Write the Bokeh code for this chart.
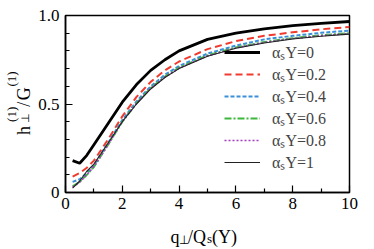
import math
from bokeh.plotting import figure
from bokeh.layouts import row, column
from bokeh.models import FixedTicker, Legend, LegendItem, Range1d, ColumnDataSource
from bokeh.core.properties import value
from bokeh.embed import file_html
from bokeh.resources import INLINE

# ---- data ----
q_ratio = [0.25, 0.5, 0.75, 1, 1.5, 2, 2.5, 3, 3.5, 4, 5, 6, 7, 8, 9, 10]
h_y0 = [0.18, 0.165, 0.21, 0.27, 0.39, 0.51, 0.61, 0.69, 0.75, 0.80, 0.865, 0.90, 0.925, 0.943, 0.955, 0.966]
h_y02 = [0.09, 0.11, 0.14, 0.18, 0.30, 0.43, 0.54, 0.625, 0.69, 0.74, 0.81, 0.855, 0.885, 0.905, 0.922, 0.935]
h_y04 = [0.06, 0.075, 0.11, 0.155, 0.28, 0.41, 0.515, 0.60, 0.665, 0.715, 0.785, 0.83, 0.865, 0.885, 0.902, 0.915]
h_y06 = [0.035, 0.06, 0.10, 0.145, 0.27, 0.40, 0.505, 0.59, 0.655, 0.705, 0.775, 0.82, 0.85, 0.872, 0.888, 0.90]
h_y08 = [0.03, 0.058, 0.10, 0.145, 0.27, 0.40, 0.503, 0.588, 0.652, 0.702, 0.772, 0.817, 0.848, 0.87, 0.886, 0.898]
h_y1 = [0.025, 0.065, 0.12, 0.16, 0.28, 0.40, 0.50, 0.585, 0.65, 0.70, 0.77, 0.815, 0.845, 0.867, 0.883, 0.895]

series_labels = ["α\u209bY=0", "α\u209bY=0.2", "α\u209bY=0.4", "α\u209bY=0.6", "α\u209bY=0.8", "α\u209bY=1"]
x_ticks = [0, 2, 4, 6, 8, 10]
x_tick_labels = ["0", "2", "4", "6", "8", "10"]
y_ticks = [0, 0.5, 1.0]
y_tick_labels = ["0", "0.5", "1.0"]

# axis-title pieces: base text plus sub/superscripts
x_title_parts = ["q", "⊥", "/Q", "s", "(Y)"]
y_title_parts = ["h", "(1)", "⊥", "/", "G", "(1)"]

SERIF = "Liberation Serif"

# ---------------- main plot ----------------
p = figure(width=332, height=219, output_backend="svg", toolbar_location=None, title=None,
           x_range=Range1d(0, 10), y_range=Range1d(0, 1),
           min_border_left=31, min_border_right=17, min_border_top=15, min_border_bottom=27)
p.background_fill_color = "white"
p.border_fill_color = "white"
p.outline_line_color = "black"
p.outline_line_width = 1.5
p.xgrid.visible = False
p.ygrid.visible = False

styles = [
    dict(color="black", line_width=2.8, line_dash="solid"),
    dict(color="#f03a2e", line_width=2.0, line_dash="7 4"),
    dict(color="#3b8fd9", line_width=2.0, line_dash="4 2"),
    dict(color="#3cb83c", line_width=2.0, line_dash="7 2 2 2"),
    dict(color="#a83cc4", line_width=1.6, line_dash="2 2"),
    dict(color="#222222", line_width=1.1, line_dash="solid"),
]
series = [h_y0, h_y02, h_y04, h_y06, h_y08, h_y1]
items = []
for ys, st, lab in zip(series, styles, series_labels):
    r = p.line(q_ratio, ys, line_color=st["color"], line_width=st["line_width"], line_dash=st["line_dash"])
    items.append(LegendItem(label=lab, renderers=[r]))

legend = Legend(items=items, location=(159, 19), padding=0, margin=0, spacing=0,
                glyph_width=36, glyph_height=18, label_height=18, label_standoff=12,
                label_text_font=SERIF, label_text_font_size="16px",
                border_line_color=None, background_fill_alpha=0)
p.add_layout(legend)

for ax in (p.xaxis[0], p.yaxis[0]):
    ax.axis_line_color = "black"
    ax.axis_line_width = 1.5
    ax.major_tick_in = 7
    ax.major_tick_out = 0
    ax.minor_tick_in = 4
    ax.minor_tick_out = 0
    ax.major_tick_line_color = "black"
    ax.minor_tick_line_color = "black"
    ax.major_tick_line_width = 1.2
    ax.minor_tick_line_width = 1.2
    ax.major_label_text_font = SERIF
    ax.major_label_text_font_size = "17px"
    ax.major_label_text_color = "black"
    ax.major_label_standoff = 6
p.xaxis[0].major_label_standoff = 5

p.xaxis[0].ticker = FixedTicker(ticks=x_ticks, minor_ticks=[1, 3, 5, 7, 9])
p.xaxis[0].major_label_overrides = {t: s for t, s in zip(x_ticks, x_tick_labels)}
p.yaxis[0].ticker = FixedTicker(ticks=y_ticks, minor_ticks=[0.1, 0.2, 0.3, 0.4, 0.6, 0.7, 0.8, 0.9])
p.yaxis[0].major_label_overrides = {t: s for t, s in zip(y_ticks, y_tick_labels)}


def text_panel(w, h):
    f = figure(width=w, height=h, output_backend="svg", toolbar_location=None, title=None,
               x_range=Range1d(0, w), y_range=Range1d(0, h),
               x_axis_location=None, y_axis_location=None,
               min_border=0, min_border_left=0, min_border_right=0,
               min_border_top=0, min_border_bottom=0)
    f.outline_line_color = None
    f.xgrid.visible = False
    f.ygrid.visible = False
    f.background_fill_color = "white"
    f.border_fill_color = "white"
    return f


# ---------------- y-axis title (rotated, with sub/superscripts) ----------------
yl = text_panel(34, 219)
yl_src = ColumnDataSource(dict(
    text=y_title_parts,
    x=[23, 10.5, 24, 23, 23, 10.5],
    y=[71, 87.3, 86, 106, 114, 131],
    size=["18px", "13px", "11px", "18px", "18px", "13px"],
))
yl.text(x="x", y="y", text="text", source=yl_src, angle=math.pi / 2,
        text_font=value(SERIF), text_font_size="size", text_color="black",
        text_align="left", text_baseline="alphabetic")

# ---------------- x-axis title (with subscripts) ----------------
xl = text_panel(366, 30)
xl_src = ColumnDataSource(dict(
    text=x_title_parts,
    x=[170, 178.5, 187.5, 206.5, 211.5],
    y=[13, 10, 13, 11, 13],
    size=["18px", "12px", "18px", "13px", "18px"],
))
xl.text(x="x", y="y", text="text", source=xl_src,
        text_font=value(SERIF), text_font_size="size", text_color="black",
        text_align="left", text_baseline="alphabetic")

layout = column(row(yl, p, spacing=0), xl, spacing=0)
open("out.html", "w").write(file_html(layout, INLINE))
